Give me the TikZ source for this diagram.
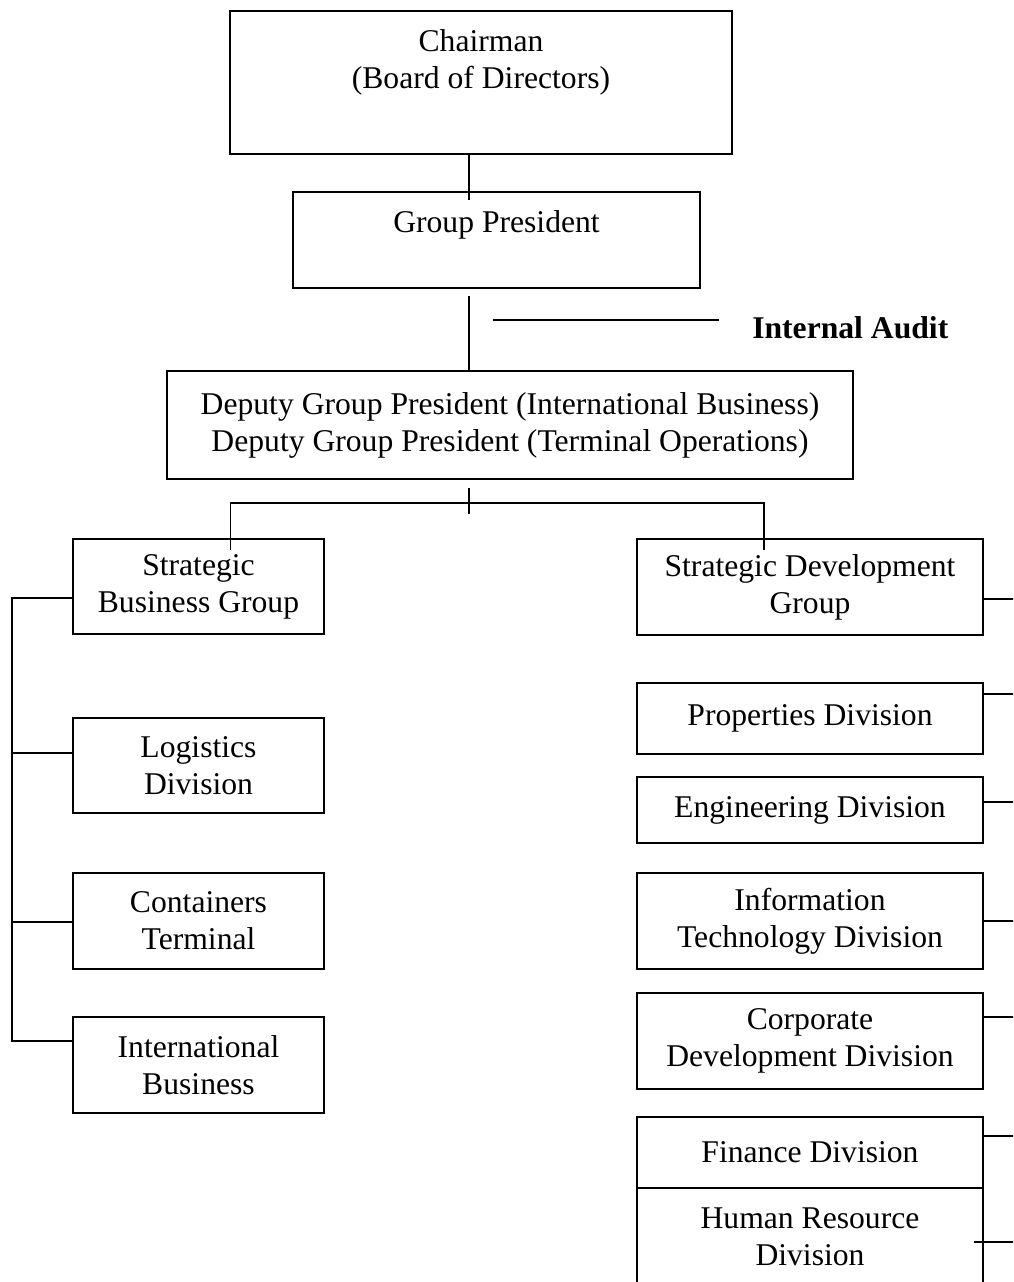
\documentclass[tikz,border=0pt]{standalone}
\usepackage{fontspec}
\setmainfont{Liberation Serif}
\usepackage{tikz}
\usetikzlibrary{calc, positioning}

\begin{document}
\begin{tikzpicture}[
        x=0.025cm, y=-0.025cm,
        box/.style={rectangle, draw, line width=1.5pt, inner sep=0pt, align=center, font=\fontsize{22.5}{26.3}\selectfont},
        leftbox/.style={box, minimum width=6.275cm, minimum height=2.4cm},
        rightbox/.style={box, minimum width=8.65cm, minimum height=2.4cm},
        link/.style={line width=1.2pt}
    ]
        \clip (0,0) rectangle (1013,1282);

        \node[box, minimum width=12.55cm, text height=1.925cm, text depth=1.65cm] (chair) at (481,82.5) {Chairman\\(Board of Directors)};
        \node[box, minimum width=10.175cm, text height=1cm, text depth=1.4cm] (gp) at (496.5,240) {Group President};
        \node[box, minimum width=17.15cm, minimum height=2.7cm] (dgp) at (510,425) {Deputy Group President (International Business)\\Deputy Group President (Terminal Operations)};
        \node[anchor=west, inner sep=0pt, font=\fontsize{22.5}{26.3}\selectfont\bfseries] (audit) at (752,328) {Internal Audit};

        % left column
        \node[leftbox, minimum height=2.375cm] (sbg) at (198.5,586.5) {Strategic\\Business Group};
        \node[leftbox, minimum height=2.375cm] (logi) at (198.5,765.5) {Logistics\\Division};
        \node[leftbox] (cont) at (198.5,921) {Containers\\Terminal};
        \node[leftbox] (intl) at (198.5,1065) {International\\Business};

        % right column
        \node[rightbox] (sdg) at (810,587) {Strategic Development\\Group};
        \node[rightbox, minimum height=1.775cm] (prop) at (810,718.5) {Properties Division};
        \node[rightbox, minimum height=1.65cm] (eng) at (810,810) {Engineering Division};
        \node[rightbox] (it) at (810,921) {Information\\Technology Division};
        \node[rightbox] (corp) at (810,1041) {Corporate\\Development Division};
        \node[rightbox, minimum height=1.775cm] (fin) at (810,1152.5) {Finance Division};
        \node[rightbox, minimum height=2.45cm] (hr) at (810,1237) {Human Resource\\Division};

        \coordinate (trunk) at (469,200);
        \coordinate (bus) at (469,503);
        \coordinate (spine) at (12,0);
        \coordinate (edge) at (1020,0);

        \draw[link] (chair.south -| trunk) -- (trunk);
        \draw[link] ($(gp.south -| trunk)+(0,7)$) -- (dgp.north -| trunk);
        \draw[link] ($(audit.west)+(-33,-8)$) -- ++(-226,0);
        \draw[link] ($(dgp.south -| trunk)+(0,8)$) -- ++(0,26);
        \draw[link] ($(sbg.north)+(32,12)$) |- (bus) -| ($(sdg.north)+(-46,12)$);

        \draw[link] ($(sbg.west)+(0,11.5)$) -| ($(intl.west -| spine)+(0,-24)$) -- ($(intl.west)+(0,-24)$);
        \draw[link] ($(logi.west)+(0,-12.5)$) -- ($(logi.west -| spine)+(0,-12.5)$);
        \draw[link] ($(cont.west)+(0,1)$) -- ($(cont.west -| spine)+(0,1)$);

        \draw[link] ($(sdg.east)+(0,12)$) -- ($(sdg.east -| edge)+(0,12)$);
        \draw[link] ($(prop.east)+(0,-24.5)$) -- ($(prop.east -| edge)+(0,-24.5)$);
        \draw[link] ($(eng.east)+(0,-8)$) -- ($(eng.east -| edge)+(0,-8)$);
        \draw[link] (it.east) -- (it.east -| edge);
        \draw[link] ($(corp.east)+(0,-24)$) -- ($(corp.east -| edge)+(0,-24)$);
        \draw[link] ($(fin.east)+(0,-16.5)$) -- ($(fin.east -| edge)+(0,-16.5)$);
        \draw[link] ($(hr.east)+(-10,5)$) -- ($(hr.east -| edge)+(0,5)$);
    \end{tikzpicture}
\end{document}
